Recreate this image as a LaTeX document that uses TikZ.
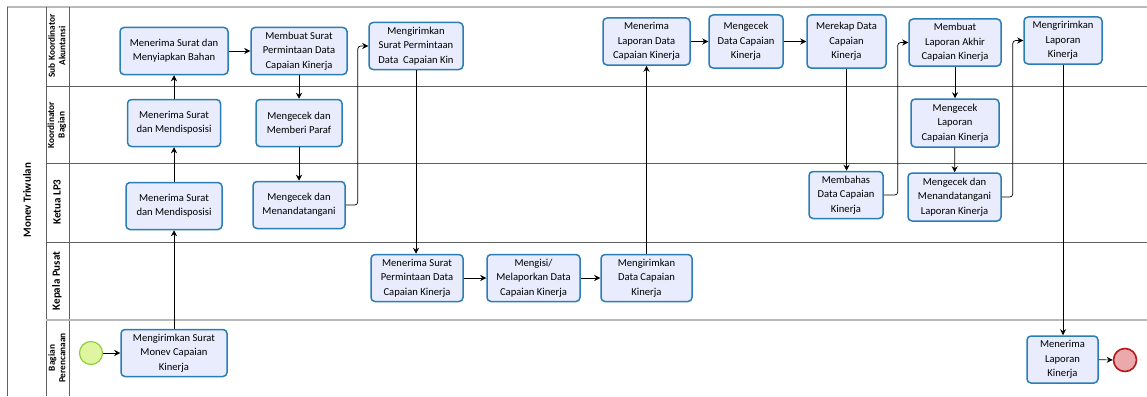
\documentclass[tikz,border=0pt]{standalone}
\usepackage{fontspec}
\setmainfont{Carlito}
\usetikzlibrary{arrows.meta}
\definecolor{taskfill}{HTML}{E8ECFD}
\definecolor{taskline}{HTML}{2A7DB5}
\definecolor{startfill}{HTML}{E0F5A0}
\definecolor{startline}{HTML}{8FCF3F}
\definecolor{endfill}{HTML}{ECA9AB}
\definecolor{endline}{HTML}{B3161C}
\definecolor{laneline}{HTML}{606060}
\begin{document}
\begin{tikzpicture}
    [x=1pt,y=-1pt,
    task/.style={draw=taskline,fill=taskfill,line width=1.5pt,rounded corners=4pt,
        align=center,minimum height=47pt,inner sep=1pt,font=\fontsize{10.6}{14.3}\selectfont},
    lanelabel/.style={rotate=90,align=center,font=\bfseries\fontsize{9.3}{10.5}\selectfont},
    bigl/.style={font=\bfseries\fontsize{11}{12}\selectfont},
    flow/.style={-{Stealth[length=6pt,width=6pt]},line width=0.7pt},
    lane/.style={draw=laneline,line width=0.6pt}]
    \useasboundingbox (0,0) rectangle (1147,396);
    %pool and lanes
    \draw[gray!55,line width=1.5pt] (7,7)--(1147,7);
    \draw[lane] (7,7)--(7,396);
    \draw[lane] (46,7)--(46,396);
    \draw[lane] (69,7)--(69,396);
    \draw[lane] (46,86)--(1147,86);
    \draw[lane] (46,163)--(1147,163);
    \draw[lane] (46,242)--(1147,242);
    \draw[gray!55,line width=1.2pt] (46,320)--(1147,320);
    %lane labels
    \node[lanelabel,bigl] (pool) at (27,200) {Monev Triwulan};
    \node[lanelabel] (lsub) at (57,46) {Sub Koordinator\\Akuntansi};
    \node[lanelabel] (lkoor) at (57,125) {Koordinator\\Bagian};
    \node[lanelabel,bigl] (lketua) at (57,202) {Ketua LP3};
    \node[lanelabel,bigl] (lkepala) at (57,281) {Kepala Pusat};
    \node[lanelabel] (lbagian) at (57,358) {Bagian\\Perencanaan};
    %events
    \node[circle,draw=startline,fill=startfill,line width=1.2pt,minimum size=23pt] (start) at (91,353) {};
    \node[circle,draw=endline,fill=endfill,line width=1.6pt,minimum size=23pt] (end) at (1125,360) {};
    %tasks
    \node[task,minimum width=106pt] (kirimsurat) at (174,353) {Mengirimkan Surat\\Monev Capaian\\Kinerja};
    \node[task,minimum width=96pt] (ketuadisp) at (174,206) {Menerima Surat\\dan Mendisposisi};
    \node[task,minimum width=93pt] (koordisp) at (174,123) {Menerima Surat\\dan Mendisposisi};
    \node[task,minimum width=108pt] (siapbahan) at (174,51) {Menerima Surat dan\\Menyiapkan Bahan};
    \node[task,minimum width=96pt] (buatsurat) at (299,51) {Membuat Surat\\Permintaan Data\\Capaian Kinerja};
    \node[task,minimum width=86pt] (paraf) at (299,123) {Mengecek dan\\Memberi Paraf};
    \node[task,minimum width=92pt] (tandatangan) at (299,205) {Mengecek dan\\Menandatangani};
    \node[task,minimum width=94pt] (kirimminta) at (416,46) {Mengirimkan\\Surat Permintaan\\Data\ \ Capaian Kin};
    \node[task,minimum width=92pt] (terimaminta) at (417,278) {Menerima Surat\\Permintaan Data\\Capaian Kinerja};
    \node[task,minimum width=93pt] (isi) at (533.5,278) {Mengisi/\\Melaporkan Data\\Capaian Kinerja};
    \node[task,minimum width=91pt] (kirimdata) at (646.5,278) {Mengirimkan\\Data Capaian\\Kinerja};
    \node[task,minimum width=87pt] (terimalap) at (646.5,41.5) {Menerima\\Laporan Data\\Capaian Kinerja};
    \node[task,minimum width=74pt,minimum height=53pt] (cekdata) at (746,41.5) {Mengecek\\Data Capaian\\Kinerja};
    \node[task,minimum width=79pt,minimum height=53pt] (rekap) at (846.5,41.5) {Merekap Data\\Capaian\\Kinerja};
    \node[task,minimum width=74pt] (bahas) at (846,195) {Membahas\\Data Capaian\\Kinerja};
    \node[task,minimum width=92pt] (buatlap) at (955,42.5) {Membuat\\Laporan Akhir\\Capaian Kinerja};
    \node[task,minimum width=88pt,minimum height=48pt] (ceklap) at (955,123) {Mengecek\\Laporan\\Capaian Kinerja};
    \node[task,minimum width=93pt,minimum height=48pt] (tandalap) at (954.5,197) {Mengecek dan\\Menandatangani\\Laporan Kinerja};
    \node[task,minimum width=78pt] (kirimlap) at (1063,40.5) {Mengririmkan\\Laporan\\Kinerja};
    \node[task,minimum width=71pt] (terimalapbag) at (1062.5,359.5) {Menerima\\Laporan\\Kinerja};
    %flows
    \draw[flow] (start)--(kirimsurat);
    \draw[flow] (kirimsurat)--(ketuadisp);
    \draw[flow] (ketuadisp)--(koordisp);
    \draw[flow] (koordisp)--(siapbahan);
    \draw[flow] (siapbahan)--(buatsurat);
    \draw[flow] (buatsurat)--(paraf);
    \draw[flow] (paraf)--(tandatangan);
    \draw[flow,rounded corners=3pt] (tandatangan.east)--++(12,0)|-(kirimminta.west);
    \draw[flow] (kirimminta.south)--(kirimminta.south|-terimaminta.north);
    \draw[flow] (terimaminta)--(isi);
    \draw[flow] (isi)--(kirimdata);
    \draw[flow] (kirimdata)--(terimalap);
    \draw[flow] (terimalap)--(cekdata);
    \draw[flow] (cekdata)--(rekap);
    \draw[flow] (rekap.south)--(rekap.south|-bahas.north);
    \draw[flow,rounded corners=3pt] (bahas.east)--++(14,0)|-(buatlap.west);
    \draw[flow] (buatlap)--(ceklap);
    \draw[flow] (ceklap)--(tandalap);
    \draw[flow,rounded corners=3pt] (tandalap.east)--++(11,0)|-(kirimlap.west);
    \draw[flow] (kirimlap.south)--(kirimlap.south|-terimalapbag.north);
    \draw[flow] (terimalapbag)--(end);
\end{tikzpicture}
\end{document}
